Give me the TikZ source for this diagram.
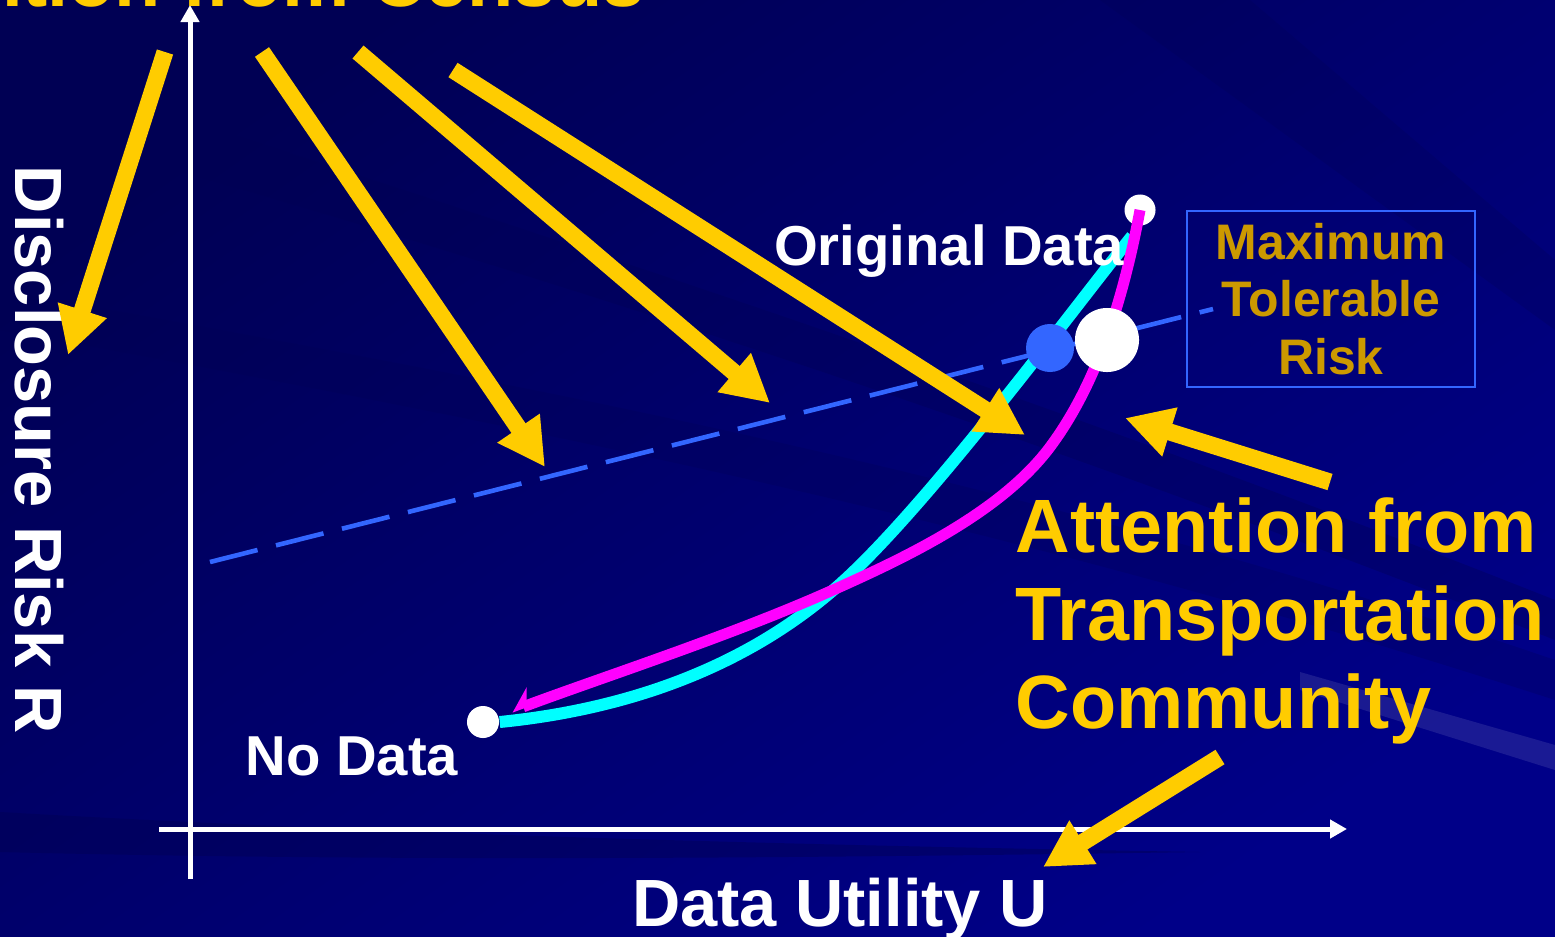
\documentclass[tikz,border=0pt]{standalone}
\usepackage{fontspec}
\setmainfont{Liberation Sans}
\usetikzlibrary{arrows.meta, positioning, calc}
\definecolor{bgnavy}{RGB}{0,0,136}
\definecolor{bgdark}{RGB}{0,0,84}
\definecolor{arrowgold}{RGB}{255,204,0}
\definecolor{boxgold}{RGB}{204,153,0}
\definecolor{riskblue}{RGB}{51,102,255}
\definecolor{curvecyan}{RGB}{0,255,255}
\definecolor{curvemag}{RGB}{255,0,255}
\tikzset{
  bigarrow/.style={-{Triangle[length=0.47cm, width=0.48cm]}, line width=0.17cm, color=arrowgold},
  axis/.style={-{Triangle[length=0.17cm, width=0.18cm]}, line width=0.05cm, color=white},
  axislabel/.style={font=\fontsize{19}{22}\selectfont\bfseries, text=white, inner sep=0pt},
  endlabel/.style={font=\fontsize{16}{19}\selectfont\bfseries, text=white, inner sep=0pt},
  attn/.style={font=\fontsize{21.5}{25}\selectfont\bfseries, text=arrowgold, inner sep=0pt},
  dot/.style={circle, fill=white, inner sep=0pt},
  streak/.style={fill=bgdark, opacity=0.35}
}

\begin{document}
\begin{tikzpicture}[x=0.01cm, y=-0.01cm]
  % background
  \shade[top color=bgdark, bottom color=bgnavy, shading angle=35] (0,0) rectangle (1555,936);
  \useasboundingbox (0,0) rectangle (1555,936);
  \clip (0,0) rectangle (1555,936);
  \fill[streak] (0,120) .. controls (500,260) and (1000,420) .. (1555,640)
    -- (1555,600) .. controls (1000,380) and (500,220) .. (0,60) -- cycle;
  \fill[streak, opacity=0.25] (0,330) .. controls (500,420) and (1000,520) .. (1555,700)
    -- (1555,660) .. controls (1000,470) and (500,380) .. (0,290) -- cycle;
  \fill[streak, opacity=0.45] (0,812) .. controls (400,835) and (800,845) .. (1200,852)
    .. controls (800,858) and (400,862) .. (0,852) -- cycle;
  \fill[streak, opacity=0.25] (1100,0) -- (1250,0) -- (1555,260) -- (1555,330) -- cycle;
  \fill[white, opacity=0.1] (1300,672) -- (1555,745) -- (1555,770) -- (1300,690) -- cycle;

  % tolerable risk line
  \coordinate (riskL) at (210,562);
  \coordinate (riskR) at (1213,309);
  \draw[riskblue, line width=0.046cm, dash pattern=on 0.49cm off 0.19cm] (riskL) -- (riskR);

  % end points of the curves
  \node[dot, minimum size=0.32cm] (nodata) at (483,722) {};
  \node[dot, minimum size=0.31cm] (orig) at (1140,210) {};
  \coordinate (cyanmid) at (850,575);
  \coordinate (cyanend) at (1132,236);
  \coordinate (magA) at (1050,447);
  \coordinate (magB) at (833,590);
  \coordinate (magend) at (512,711);

  % cyan curve
  \draw[curvecyan, line width=0.12cm] (nodata.east)
    .. controls (640,708) and (760,660) .. (cyanmid)
    .. controls (940,490) and (1080,300) .. (cyanend);

  % magenta curve
  \draw[curvemag, line width=0.11cm, -{Stealth[right, length=0.2cm, width=0.34cm]}]
    (orig.center) .. controls (1125,290) and (1100,380) .. (magA)
    .. controls (1000,514) and (900,560) .. (magB)
    .. controls (733,635) and (600,678) .. (magend);

  % crossing points
  \node[circle, fill=riskblue, inner sep=0pt, minimum size=0.48cm] (crossU) at (1050,348) {};
  \node[dot, minimum size=0.64cm] (crossR) at (1107,340) {};

  % maximum tolerable risk
  \node[draw=riskblue, line width=0.02cm, minimum width=2.88cm, minimum height=1.75cm,
    align=center, text=boxgold, font=\fontsize{14.2}{16.4}\selectfont\bfseries] (maxrisk)
    at (1331,299) {Maximum\\Tolerable\\Risk};

  % axes
  \coordinate (o1) at (190,879);
  \coordinate (ytop) at (190,5);
  \coordinate (o2) at (159,829);
  \coordinate (xend) at (1347,829);
  \draw[axis] (o1) -- (ytop);
  \draw[axis] (o2) -- (xend);
  \node[axislabel, rotate=-90, anchor=base] (ylbl) at (15,450) {Disclosure Risk R};
  \node[axislabel, anchor=base] (xlbl) at (840,926) {Data Utility U};

  % curve labels
  \node[endlabel, anchor=base east] (origlbl) at (1125,265) {Original Data};
  \node[endlabel, anchor=base west] (nodatalbl) at (245,775) {No Data};

  % attention texts
  \node[attn, anchor=base east] (census) at (645,6) {Attention from Census};
  \node[attn, anchor=north west, align=left] (transport) at (1015,497)
    {Attention from\\Transportation\\Community};

  % arrows from census
  \coordinate (c1) at (165,52);  \coordinate (t1) at (68,355);
  \coordinate (c2) at (262,52);  \coordinate (t2) at (545,467);
  \coordinate (c3) at (358,52);  \coordinate (t3) at (770,403);
  \coordinate (c4) at (453,70);  \coordinate (t4) at (1025,435);
  \draw[bigarrow] (c1) -- (t1);
  \draw[bigarrow] (c2) -- (t2);
  \draw[bigarrow] (c3) -- (t3);
  \draw[bigarrow] (c4) -- (t4);

  % arrows from transportation
  \coordinate (c5) at (1330,482); \coordinate (t5) at (1125,418);
  \coordinate (c6) at (1220,757); \coordinate (t6) at (1043,867);
  \draw[bigarrow] (c5) -- (t5);
  \draw[bigarrow] (c6) -- (t6);
\end{tikzpicture}
\end{document}
